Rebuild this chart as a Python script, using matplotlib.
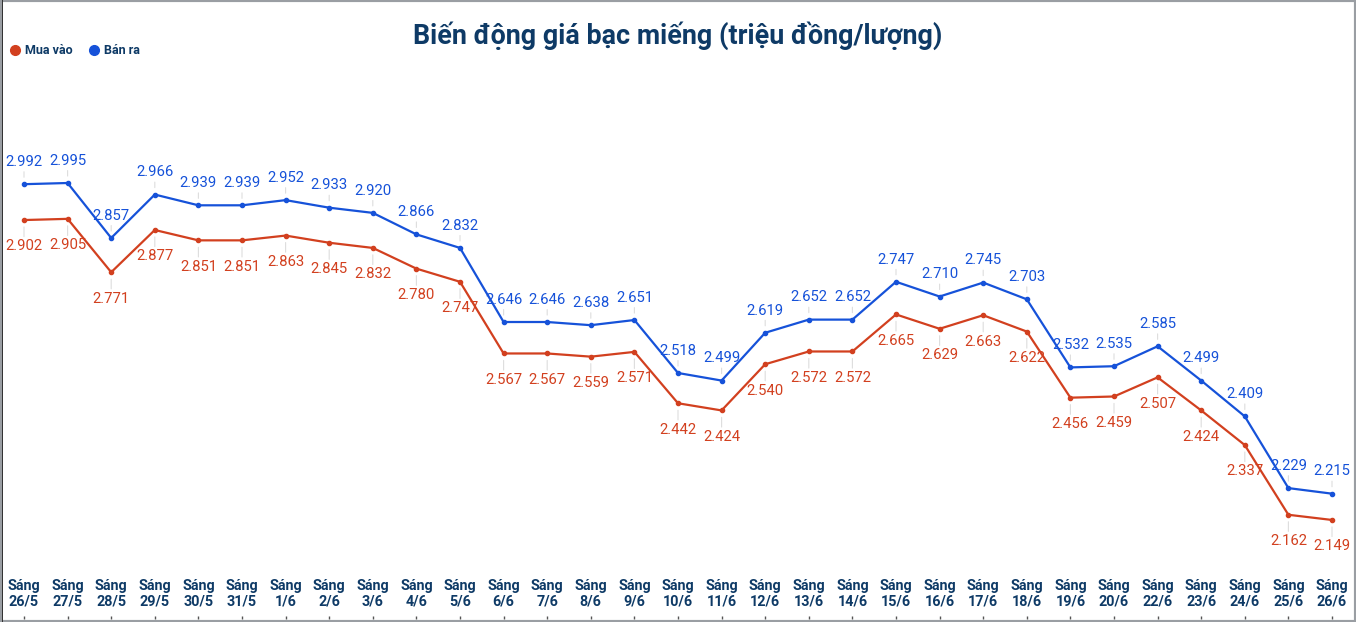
import matplotlib
matplotlib.use("Agg")
import matplotlib.pyplot as plt
from matplotlib.lines import Line2D
from matplotlib.patches import Rectangle

plt.rcParams['font.family'] = ['Roboto', 'DejaVu Sans']

dates = ["26/5", "27/5", "28/5", "29/5", "30/5", "31/5", "1/6", "2/6", "3/6", "4/6",
         "5/6", "6/6", "7/6", "8/6", "9/6", "10/6", "11/6", "12/6", "13/6", "14/6",
         "15/6", "16/6", "17/6", "18/6", "19/6", "20/6", "22/6", "23/6", "24/6", "25/6", "26/6"]
ban_ra = [2.992, 2.995, 2.857, 2.966, 2.939, 2.939, 2.952, 2.933, 2.920, 2.866,
          2.832, 2.646, 2.646, 2.638, 2.651, 2.518, 2.499, 2.619, 2.652, 2.652,
          2.747, 2.710, 2.745, 2.703, 2.532, 2.535, 2.585, 2.499, 2.409, 2.229, 2.215]
mua_vao = [2.902, 2.905, 2.771, 2.877, 2.851, 2.851, 2.863, 2.845, 2.832, 2.780,
           2.747, 2.567, 2.567, 2.559, 2.571, 2.442, 2.424, 2.540, 2.572, 2.572,
           2.665, 2.629, 2.663, 2.622, 2.456, 2.459, 2.507, 2.424, 2.337, 2.162, 2.149]
labels = ["Sáng\n" + d for d in dates]

RED = "#d2401f"
BLUE = "#1652d9"
NAVY = "#0e3a66"

W, H = 1356, 622
fig = plt.figure(figsize=(W / 100, H / 100), dpi=100)
ax = fig.add_axes([0, 3 / H, 1, (619 - 60) / H])

n = len(dates)
x = list(range(n))
step = (1332 - 24) / (n - 1)
ax.set_xlim(-24 / step, (n - 1) + (W - 1332) / step)
ppu = 398.3
ax.set_ylim(2.995 - (619 - 183) / ppu, 2.995 + (183 - 60) / ppu)

ax.plot(x, ban_ra, color=BLUE, lw=1.6, marker='o', ms=3, zorder=3)
ax.plot(x, mua_vao, color=RED, lw=1.6, marker='o', ms=3, zorder=3)

for xi, v in zip(x, ban_ra):
    ax.annotate(f"{v:.3f}", (xi, v), xytext=(0, 16), textcoords='offset points',
                ha='center', va='center', color=BLUE, fontsize=10.7,
                arrowprops=dict(arrowstyle='-', color='#dddddd', lw=0.8,
                                shrinkA=0, shrinkB=5), zorder=2)
for xi, v in zip(x, mua_vao):
    ax.annotate(f"{v:.3f}", (xi, v), xytext=(0, -19), textcoords='offset points',
                ha='center', va='center', color=RED, fontsize=10.7,
                arrowprops=dict(arrowstyle='-', color='#dddddd', lw=0.8,
                                shrinkA=0, shrinkB=5), zorder=2)

ax.set_xticks(x)
ax.set_xticklabels(labels, fontsize=10.4, fontweight='bold', color=NAVY, linespacing=1.2)
ax.tick_params(axis='x', direction='in', length=2.5, width=1, color='#555555', pad=-29)
ax.set_yticks([])
for s in ax.spines.values():
    s.set_visible(False)

fig.text(678 / W, 1 - 36 / H, "Biến động giá bạc miếng (triệu đồng/lượng)",
         ha='center', va='center', fontsize=19.4, fontweight='bold', color=NAVY)

handles = [Line2D([], [], color=RED, marker='o', ls='', ms=7, label='Mua vào'),
           Line2D([], [], color=BLUE, marker='o', ls='', ms=7, label='Bán ra')]
leg = fig.legend(handles=handles, loc='center left', bbox_to_anchor=(0 / W, 1 - 51 / H),
                 ncol=2, frameon=False, fontsize=9, handletextpad=0.3, columnspacing=1.2,
                 handlelength=1.0, borderpad=0.2)
for t in leg.get_texts():
    t.set_color(NAVY)
    t.set_fontweight('bold')

# border
fig.patches.append(Rectangle((0, 0), 1, 1, transform=fig.transFigure, fill=False,
                             edgecolor='#9a9ea3', lw=3))
fig.patches.append(Rectangle((1.5 / W, 0), 1.2 / W, 1, transform=fig.transFigure,
                             facecolor='#333333', edgecolor='none'))

fig.savefig("out.png", dpi=100)
